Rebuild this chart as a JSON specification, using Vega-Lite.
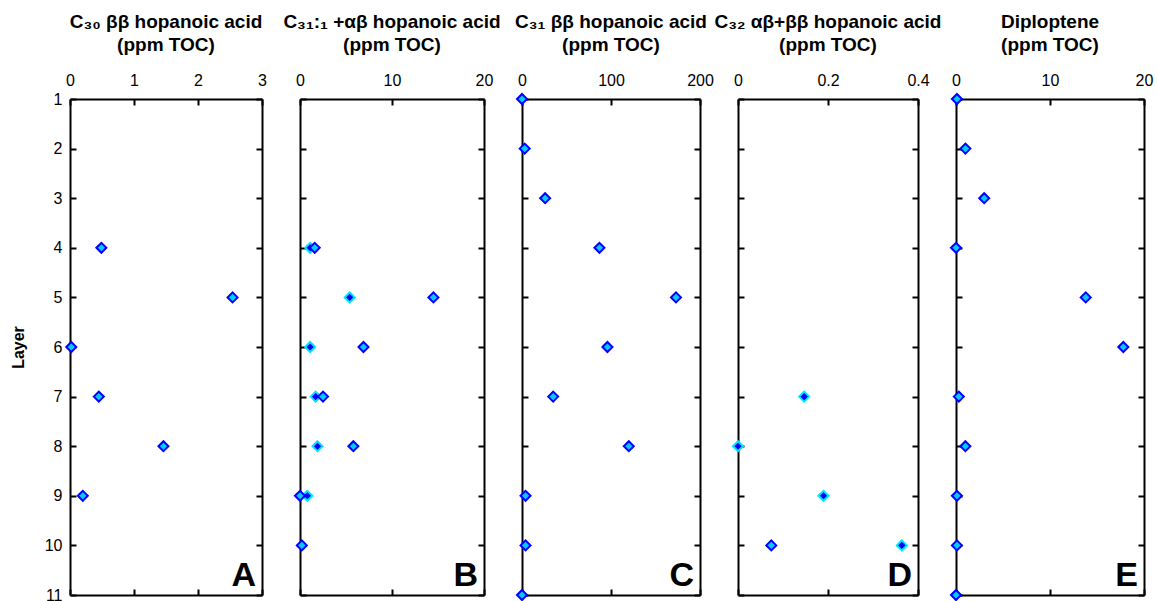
{
  "$schema": "https://vega.github.io/schema/vega-lite/v6.json",
  "padding": {"left": 10, "top": 13, "right": 5, "bottom": 0},
  "background": "white",
  "bounds": "flush",
  "spacing": 38,
  "config": {
    "view": {"stroke": null},
    "font": "Liberation Sans",
    "axis": {"domainColor": "black", "domainWidth": 2, "tickColor": "black", "tickWidth": 2, "tickSize": -6, "labelFont": "Liberation Sans", "labelFontSize": 16, "labelColor": "black", "grid": false, "titleFont": "Liberation Sans", "titleFontSize": 16, "titleColor": "black", "titleFontWeight": "bold", "labelFlush": false, "labelOverlap": false},
    "title": {"font": "Liberation Sans", "fontSize": 19, "fontWeight": "bold", "color": "black", "lineHeight": 23, "anchor": "middle", "offset": 17}
  },
  "datasets": {
    "A": [
      {"layer": 4, "v": 0.49, "s": "a"}, {"layer": 5, "v": 2.54, "s": "a"}, {"layer": 6, "v": 0.02, "s": "a"},
      {"layer": 7, "v": 0.45, "s": "a"}, {"layer": 8, "v": 1.46, "s": "a"}, {"layer": 9, "v": 0.2, "s": "a"}
    ],
    "B": [
      {"layer": 4, "v": 1.1, "s": "b"}, {"layer": 5, "v": 5.4, "s": "b"}, {"layer": 6, "v": 1.1, "s": "b"},
      {"layer": 7, "v": 1.7, "s": "b"}, {"layer": 8, "v": 1.9, "s": "b"}, {"layer": 9, "v": 0.8, "s": "b"},
      {"layer": 4, "v": 1.6, "s": "a"}, {"layer": 5, "v": 14.5, "s": "a"}, {"layer": 6, "v": 6.9, "s": "a"},
      {"layer": 7, "v": 2.5, "s": "a"}, {"layer": 8, "v": 5.8, "s": "a"}, {"layer": 9, "v": 0, "s": "a"},
      {"layer": 10, "v": 0.2, "s": "a"}
    ],
    "C": [
      {"layer": 1, "v": 0, "s": "a"}, {"layer": 2, "v": 3, "s": "a"}, {"layer": 3, "v": 26, "s": "a"},
      {"layer": 4, "v": 87, "s": "a"}, {"layer": 5, "v": 173, "s": "a"}, {"layer": 6, "v": 96, "s": "a"},
      {"layer": 7, "v": 35, "s": "a"}, {"layer": 8, "v": 120, "s": "a"}, {"layer": 9, "v": 4, "s": "a"},
      {"layer": 10, "v": 4, "s": "a"}, {"layer": 11, "v": 0, "s": "a"}
    ],
    "D": [
      {"layer": 7, "v": 0.147, "s": "b"}, {"layer": 8, "v": 0, "s": "b"}, {"layer": 9, "v": 0.19, "s": "b"},
      {"layer": 10, "v": 0.364, "s": "b"}, {"layer": 10, "v": 0.074, "s": "a"}
    ],
    "E": [
      {"layer": 1, "v": 0.1, "s": "a"}, {"layer": 2, "v": 1.0, "s": "a"}, {"layer": 3, "v": 3.0, "s": "a"},
      {"layer": 4, "v": 0, "s": "a"}, {"layer": 5, "v": 13.8, "s": "a"}, {"layer": 6, "v": 17.8, "s": "a"},
      {"layer": 7, "v": 0.3, "s": "a"}, {"layer": 8, "v": 1.0, "s": "a"}, {"layer": 9, "v": 0.1, "s": "a"},
      {"layer": 10, "v": 0.1, "s": "a"}, {"layer": 11, "v": 0, "s": "a"}
    ]
  },
  "hconcat": [
    {
      "width": 192, "height": 496,
      "title": {"text": ["C₃₀ ββ hopanoic acid", "(ppm TOC)"]},
      "resolve": {"axis": {"x": "independent", "y": "independent"}},
      "layer": [
        {
          "data": {"name": "A"},
          "mark": {"type": "point", "shape": "diamond", "filled": true, "size": 100, "strokeWidth": 2, "opacity": 1},
          "encoding": {
            "x": {"field": "v", "type": "quantitative", "scale": {"domain": [0, 3], "nice": false, "zero": false}, "axis": {"orient": "top", "values": [0, 1, 2, 3], "title": null, "labelPadding": 17}},
            "y": {"field": "layer", "type": "quantitative", "scale": {"domain": [1, 11], "reverse": true, "nice": false, "zero": false}, "axis": {"orient": "left", "values": [1, 2, 3, 4, 5, 6, 7, 8, 9, 10, 11], "title": "Layer", "labelPadding": 14, "titlePadding": 18}},
            "fill": {"field": "s", "type": "nominal", "scale": {"domain": ["a", "b"], "range": ["#00ccff", "#0000ff"]}, "legend": null},
            "stroke": {"field": "s", "type": "nominal", "scale": {"domain": ["a", "b"], "range": ["#0000ff", "#00e5ff"]}, "legend": null}
          }
        },
        {
          "data": {"values": [{"L": "A"}]},
          "mark": {"type": "text", "align": "right", "baseline": "alphabetic", "dx": -6, "dy": -9, "fontSize": 34, "fontWeight": "bold", "color": "black", "font": "Liberation Sans"},
          "encoding": {
            "text": {"field": "L"},
            "x": {"datum": 3, "type": "quantitative", "scale": {"domain": [0, 3], "nice": false, "zero": false}, "axis": {"orient": "bottom", "values": [0, 1, 2, 3], "labels": false, "title": null}},
            "y": {"datum": 11, "type": "quantitative", "scale": {"domain": [1, 11], "reverse": true, "nice": false, "zero": false}, "axis": {"orient": "right", "values": [1, 2, 3, 4, 5, 6, 7, 8, 9, 10, 11], "labels": false, "title": null}}
          }
        }
      ]
    },
    {
      "width": 184, "height": 496,
      "title": {"text": ["C₃₁:₁ +αβ hopanoic acid", "(ppm TOC)"]},
      "resolve": {"axis": {"x": "independent", "y": "independent"}},
      "layer": [
        {
          "data": {"name": "B"},
          "mark": {"type": "point", "shape": "diamond", "filled": true, "size": 100, "strokeWidth": 2, "opacity": 1},
          "encoding": {
            "x": {"field": "v", "type": "quantitative", "scale": {"domain": [0, 20], "nice": false, "zero": false}, "axis": {"orient": "top", "values": [0, 10, 20], "title": null, "labelPadding": 17}},
            "y": {"field": "layer", "type": "quantitative", "scale": {"domain": [1, 11], "reverse": true, "nice": false, "zero": false}, "axis": {"orient": "left", "values": [1, 2, 3, 4, 5, 6, 7, 8, 9, 10, 11], "labels": false, "title": null}},
            "fill": {"field": "s", "type": "nominal", "scale": {"domain": ["a", "b"], "range": ["#00ccff", "#0000ff"]}, "legend": null},
            "stroke": {"field": "s", "type": "nominal", "scale": {"domain": ["a", "b"], "range": ["#0000ff", "#00e5ff"]}, "legend": null}
          }
        },
        {
          "data": {"values": [{"L": "B"}]},
          "mark": {"type": "text", "align": "right", "baseline": "alphabetic", "dx": -6, "dy": -9, "fontSize": 34, "fontWeight": "bold", "color": "black", "font": "Liberation Sans"},
          "encoding": {
            "text": {"field": "L"},
            "x": {"datum": 20, "type": "quantitative", "scale": {"domain": [0, 20], "nice": false, "zero": false}, "axis": {"orient": "bottom", "values": [0, 10, 20], "labels": false, "title": null}},
            "y": {"datum": 11, "type": "quantitative", "scale": {"domain": [1, 11], "reverse": true, "nice": false, "zero": false}, "axis": {"orient": "right", "values": [1, 2, 3, 4, 5, 6, 7, 8, 9, 10, 11], "labels": false, "title": null}}
          }
        }
      ]
    },
    {
      "width": 178, "height": 496,
      "title": {"text": ["C₃₁ ββ hopanoic acid", "(ppm TOC)"]},
      "resolve": {"axis": {"x": "independent", "y": "independent"}},
      "layer": [
        {
          "data": {"name": "C"},
          "mark": {"type": "point", "shape": "diamond", "filled": true, "size": 100, "strokeWidth": 2, "opacity": 1},
          "encoding": {
            "x": {"field": "v", "type": "quantitative", "scale": {"domain": [0, 200], "nice": false, "zero": false}, "axis": {"orient": "top", "values": [0, 100, 200], "title": null, "labelPadding": 17}},
            "y": {"field": "layer", "type": "quantitative", "scale": {"domain": [1, 11], "reverse": true, "nice": false, "zero": false}, "axis": {"orient": "left", "values": [1, 2, 3, 4, 5, 6, 7, 8, 9, 10, 11], "labels": false, "title": null}},
            "fill": {"field": "s", "type": "nominal", "scale": {"domain": ["a", "b"], "range": ["#00ccff", "#0000ff"]}, "legend": null},
            "stroke": {"field": "s", "type": "nominal", "scale": {"domain": ["a", "b"], "range": ["#0000ff", "#00e5ff"]}, "legend": null}
          }
        },
        {
          "data": {"values": [{"L": "C"}]},
          "mark": {"type": "text", "align": "right", "baseline": "alphabetic", "dx": -6, "dy": -9, "fontSize": 34, "fontWeight": "bold", "color": "black", "font": "Liberation Sans"},
          "encoding": {
            "text": {"field": "L"},
            "x": {"datum": 200, "type": "quantitative", "scale": {"domain": [0, 200], "nice": false, "zero": false}, "axis": {"orient": "bottom", "values": [0, 100, 200], "labels": false, "title": null}},
            "y": {"datum": 11, "type": "quantitative", "scale": {"domain": [1, 11], "reverse": true, "nice": false, "zero": false}, "axis": {"orient": "right", "values": [1, 2, 3, 4, 5, 6, 7, 8, 9, 10, 11], "labels": false, "title": null}}
          }
        }
      ]
    },
    {
      "width": 180, "height": 496,
      "title": {"text": ["C₃₂ αβ+ββ hopanoic acid", "(ppm TOC)"]},
      "resolve": {"axis": {"x": "independent", "y": "independent"}},
      "layer": [
        {
          "data": {"name": "D"},
          "mark": {"type": "point", "shape": "diamond", "filled": true, "size": 100, "strokeWidth": 2, "opacity": 1},
          "encoding": {
            "x": {"field": "v", "type": "quantitative", "scale": {"domain": [0, 0.4], "nice": false, "zero": false}, "axis": {"orient": "top", "values": [0, 0.2, 0.4], "format": "~g", "title": null, "labelPadding": 17}},
            "y": {"field": "layer", "type": "quantitative", "scale": {"domain": [1, 11], "reverse": true, "nice": false, "zero": false}, "axis": {"orient": "left", "values": [1, 2, 3, 4, 5, 6, 7, 8, 9, 10, 11], "labels": false, "title": null}},
            "fill": {"field": "s", "type": "nominal", "scale": {"domain": ["a", "b"], "range": ["#00ccff", "#0000ff"]}, "legend": null},
            "stroke": {"field": "s", "type": "nominal", "scale": {"domain": ["a", "b"], "range": ["#0000ff", "#00e5ff"]}, "legend": null}
          }
        },
        {
          "data": {"values": [{"L": "D"}]},
          "mark": {"type": "text", "align": "right", "baseline": "alphabetic", "dx": -6, "dy": -9, "fontSize": 34, "fontWeight": "bold", "color": "black", "font": "Liberation Sans"},
          "encoding": {
            "text": {"field": "L"},
            "x": {"datum": 0.4, "type": "quantitative", "scale": {"domain": [0, 0.4], "nice": false, "zero": false}, "axis": {"orient": "bottom", "values": [0, 0.2, 0.4], "labels": false, "title": null}},
            "y": {"datum": 11, "type": "quantitative", "scale": {"domain": [1, 11], "reverse": true, "nice": false, "zero": false}, "axis": {"orient": "right", "values": [1, 2, 3, 4, 5, 6, 7, 8, 9, 10, 11], "labels": false, "title": null}}
          }
        }
      ]
    },
    {
      "width": 188, "height": 496,
      "title": {"text": ["Diploptene", "(ppm TOC)"]},
      "resolve": {"axis": {"x": "independent", "y": "independent"}},
      "layer": [
        {
          "data": {"name": "E"},
          "mark": {"type": "point", "shape": "diamond", "filled": true, "size": 100, "strokeWidth": 2, "opacity": 1},
          "encoding": {
            "x": {"field": "v", "type": "quantitative", "scale": {"domain": [0, 20], "nice": false, "zero": false}, "axis": {"orient": "top", "values": [0, 10, 20], "title": null, "labelPadding": 17}},
            "y": {"field": "layer", "type": "quantitative", "scale": {"domain": [1, 11], "reverse": true, "nice": false, "zero": false}, "axis": {"orient": "left", "values": [1, 2, 3, 4, 5, 6, 7, 8, 9, 10, 11], "labels": false, "title": null}},
            "fill": {"field": "s", "type": "nominal", "scale": {"domain": ["a", "b"], "range": ["#00ccff", "#0000ff"]}, "legend": null},
            "stroke": {"field": "s", "type": "nominal", "scale": {"domain": ["a", "b"], "range": ["#0000ff", "#00e5ff"]}, "legend": null}
          }
        },
        {
          "data": {"values": [{"L": "E"}]},
          "mark": {"type": "text", "align": "right", "baseline": "alphabetic", "dx": -6, "dy": -9, "fontSize": 34, "fontWeight": "bold", "color": "black", "font": "Liberation Sans"},
          "encoding": {
            "text": {"field": "L"},
            "x": {"datum": 20, "type": "quantitative", "scale": {"domain": [0, 20], "nice": false, "zero": false}, "axis": {"orient": "bottom", "values": [0, 10, 20], "labels": false, "title": null}},
            "y": {"datum": 11, "type": "quantitative", "scale": {"domain": [1, 11], "reverse": true, "nice": false, "zero": false}, "axis": {"orient": "right", "values": [1, 2, 3, 4, 5, 6, 7, 8, 9, 10, 11], "labels": false, "title": null}}
          }
        }
      ]
    }
  ]
}
